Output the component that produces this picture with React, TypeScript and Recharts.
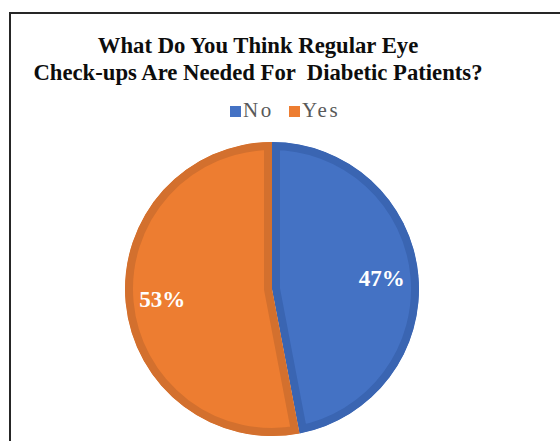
import { PieChart, Pie, Cell, Sector } from "recharts";

const categories = ["No", "Yes"];
const shares = [47, 53];
const fills = ["#4472C4", "#ED7D31"];
const bands = ["#3A65B2", "#D3702E"];

const data = categories.map((name, i) => ({ name, value: shares[i] }));

const RADIAN = Math.PI / 180;

// sector with a darker band drawn just inside its edge (stroke clipped to the sector)
const BandedSector = (props: any) => {
  const idx = categories.indexOf(props.name ?? props.payload?.name);
  const id = `band-clip-${idx}`;
  const geom = {
    cx: props.cx,
    cy: props.cy,
    innerRadius: props.innerRadius,
    outerRadius: props.outerRadius,
    startAngle: props.startAngle,
    endAngle: props.endAngle,
  };
  return (
    <g>
      <defs>
        <clipPath id={id}>
          <Sector {...geom} />
        </clipPath>
      </defs>
      <Sector
        {...geom}
        fill={fills[idx]}
        stroke={bands[idx]}
        strokeWidth={16}
        clipPath={`url(#${id})`}
      />
    </g>
  );
};

const renderLabel = (props: any) => {
  const { cx, cy, midAngle, outerRadius, value } = props;
  const r = outerRadius * 0.75;
  const x = cx + r * Math.cos(-midAngle * RADIAN);
  const y = cy + r * Math.sin(-midAngle * RADIAN);
  return (
    <text
      x={x}
      y={y}
      fill="#fff"
      textAnchor="middle"
      dominantBaseline="central"
      style={{ fontFamily: "'Liberation Serif', serif", fontWeight: 700, fontSize: 23 }}
    >
      {`${value}%`}
    </text>
  );
};

export default function App() {
  return (
    <div style={{ position: "absolute", left: 0, top: 0, width: 560, height: 441, overflow: "hidden", background: "#fff" }}>
      <div
        style={{
          position: "absolute",
          left: 9,
          top: 12,
          width: 640,
          height: 520,
          borderLeft: "2px solid #262626",
          borderTop: "2px solid #262626",
        }}
      />
      <div
        style={{
          position: "absolute",
          left: 0,
          top: 32,
          width: 516,
          textAlign: "center",
          fontFamily: "'Liberation Serif', serif",
          fontWeight: 700,
          fontSize: 22.7,
          lineHeight: "27px",
          color: "#0d0d0d",
          whiteSpace: "pre",
        }}
      >
        {"What Do You Think Regular Eye\nCheck-ups Are Needed For  Diabetic Patients?"}
      </div>
      {/* legend */}
      <div
        style={{
          position: "absolute",
          left: 230,
          top: 98,
          display: "flex",
          alignItems: "center",
          fontFamily: "'Liberation Serif', serif",
          fontSize: 21,
          lineHeight: "24px",
          letterSpacing: 2.6,
          color: "#595959",
        }}
      >
        {categories.map((c, i) => (
          <div key={c} style={{ display: "flex", alignItems: "center", marginRight: 15 }}>
            <span style={{ display: "inline-block", width: 11, height: 11, marginTop: 3, background: fills[i], marginRight: 2 }} />
            <span>{c}</span>
          </div>
        ))}
      </div>
      <div style={{ position: "absolute", left: 0, top: 0 }}>
        <PieChart width={560} height={441} margin={{ top: 0, right: 0, bottom: 0, left: 0 }}>
          <Pie
            data={data}
            dataKey="value"
            nameKey="name"
            cx={272}
            cy={289}
            outerRadius={147}
            startAngle={90}
            endAngle={-270}
            stroke="none"
            shape={BandedSector}
            label={renderLabel}
            labelLine={false}
            isAnimationActive={false}
          >
            {data.map((d, i) => (
              <Cell key={d.name} fill={fills[i]} />
            ))}
          </Pie>
        </PieChart>
      </div>
    </div>
  );
}
